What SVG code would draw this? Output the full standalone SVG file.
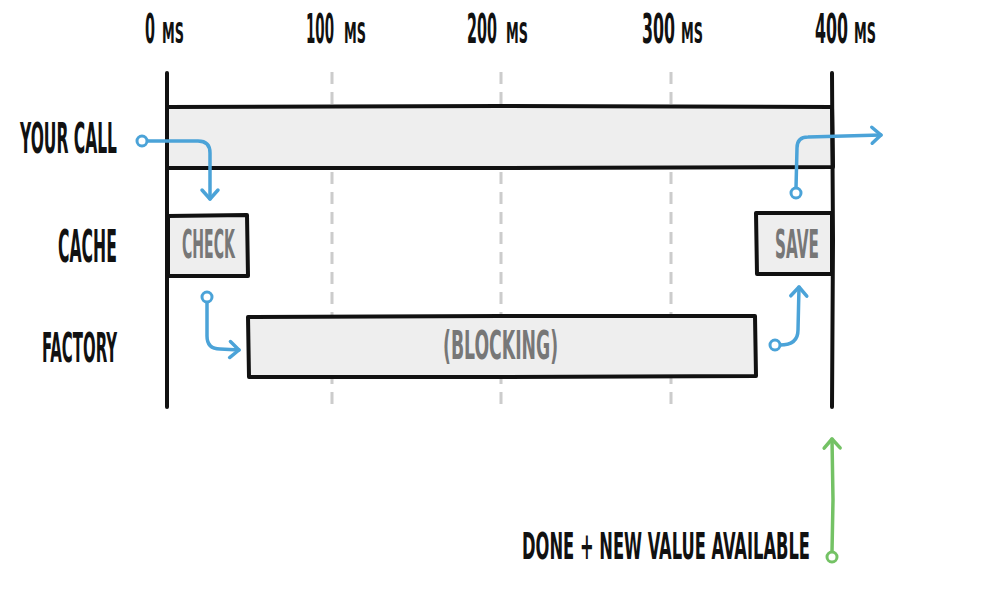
<svg xmlns="http://www.w3.org/2000/svg" width="1000" height="600" viewBox="0 0 1000 600">
<style>
.lbl{font-family:"DejaVu Sans Condensed","DejaVu Sans",sans-serif;font-weight:700;fill:#111}
.in{font-family:"DejaVu Sans Condensed","DejaVu Sans",sans-serif;font-weight:700;fill:#777}
.axis{stroke:#111;stroke-width:4;fill:none;stroke-linecap:round;stroke-linejoin:round}
.grid{stroke:#cccccc;stroke-width:3;stroke-dasharray:12 8;fill:none}
.box{fill:#eeeeee;stroke:#111;stroke-width:4;stroke-linejoin:round}
.blue{stroke:#4ba3d8;stroke-width:3.5;fill:none;stroke-linecap:round;stroke-linejoin:round}
.bdot{stroke:#4ba3d8;stroke-width:3;fill:#fff}
.green{stroke:#74c265;stroke-width:3.5;fill:none;stroke-linecap:round;stroke-linejoin:round}
.gdot{stroke:#74c265;stroke-width:3;fill:#fff}
</style>
<defs>
<marker id="ab" markerUnits="userSpaceOnUse" markerWidth="24" markerHeight="24" refX="12" refY="12" orient="auto" viewBox="0 0 24 24">
<path d="M3,4 L12,12 L3,20" fill="none" stroke="#4ba3d8" stroke-width="3.5" stroke-linecap="round" stroke-linejoin="round"/>
</marker>
<marker id="ag" markerUnits="userSpaceOnUse" markerWidth="24" markerHeight="24" refX="12" refY="12" orient="auto" viewBox="0 0 24 24">
<path d="M3,4 L12,12 L3,20" fill="none" stroke="#74c265" stroke-width="3.5" stroke-linecap="round" stroke-linejoin="round"/>
</marker>
</defs>
<rect width="1000" height="600" fill="#fff"/>
<g id="axis-labels">
<text class="lbl" font-size="41.5" transform="translate(145,43) scale(0.36,1)" textLength="27.8" lengthAdjust="spacingAndGlyphs">0</text>
<text class="lbl" font-size="28" transform="translate(162,43) scale(0.49,1)" textLength="44.9" lengthAdjust="spacingAndGlyphs">MS</text>
<text class="lbl" font-size="41.5" transform="translate(306,43) scale(0.36,1)" textLength="77.8" lengthAdjust="spacingAndGlyphs">100</text>
<text class="lbl" font-size="28" transform="translate(344,43) scale(0.49,1)" textLength="44.9" lengthAdjust="spacingAndGlyphs">MS</text>
<text class="lbl" font-size="41.5" transform="translate(467,43) scale(0.36,1)" textLength="83.3" lengthAdjust="spacingAndGlyphs">200</text>
<text class="lbl" font-size="28" transform="translate(506,43) scale(0.49,1)" textLength="44.9" lengthAdjust="spacingAndGlyphs">MS</text>
<text class="lbl" font-size="41.5" transform="translate(642,43) scale(0.36,1)" textLength="91.7" lengthAdjust="spacingAndGlyphs">300</text>
<text class="lbl" font-size="28" transform="translate(681,43) scale(0.49,1)" textLength="44.9" lengthAdjust="spacingAndGlyphs">MS</text>
<text class="lbl" font-size="41.5" transform="translate(815,43) scale(0.36,1)" textLength="91.7" lengthAdjust="spacingAndGlyphs">400</text>
<text class="lbl" font-size="28" transform="translate(854,43) scale(0.49,1)" textLength="44.9" lengthAdjust="spacingAndGlyphs">MS</text>
</g>
<g id="grid">
<path class="grid" d="M332,72 V407 M501,72 V407 M671,72 V407"/>
</g>
<g id="your-call">
<path class="box" d="M167,107 L500,106 L832,107 L833,167 L500,168 L167,168 Z"/>
<text class="lbl" font-size="43" transform="translate(20,153) scale(0.40,1)" textLength="242.5" lengthAdjust="spacingAndGlyphs">YOUR CALL</text>
</g>
<g id="cache-check">
<path class="box" d="M168,216 L247,215 L248,276 L168,276 Z"/>
<text class="lbl" font-size="44.6" transform="translate(58,262) scale(0.39,1)" textLength="151" lengthAdjust="spacingAndGlyphs">CACHE</text>
<text class="in" font-size="38.5" transform="translate(182,258) scale(0.41,1)" textLength="129" lengthAdjust="spacingAndGlyphs">CHECK</text>
</g>
<g id="cache-save">
<path class="box" d="M756,213 L832,213 L832,274 L757,274 Z"/>
<text class="in" font-size="38.5" transform="translate(775,258) scale(0.43,1)" textLength="102" lengthAdjust="spacingAndGlyphs">SAVE</text>
</g>
<g id="factory">
<path class="box" d="M248,317 L500,316 L755,316 L756,376 L500,377 L249,377 Z"/>
<text class="lbl" font-size="41.5" transform="translate(42,362) scale(0.385,1)" textLength="195" lengthAdjust="spacingAndGlyphs">FACTORY</text>
<text class="in" font-size="38.5" transform="translate(443,359) scale(0.49,1)" textLength="235" lengthAdjust="spacingAndGlyphs">(BLOCKING)</text>
</g>
<g id="timeline-bounds">
<path class="axis" d="M167,73 L167,407"/>
<path class="axis" d="M832,73 L833,240 L832,407"/>
</g>
<g id="connectors">
<path class="blue" d="M147,141 L198,141 Q210,141 210,153 L210,199" marker-end="url(#ab)"/>
<circle class="bdot" cx="142" cy="141" r="5"/>
<path class="blue" d="M207,302 L207,336 Q207,349 220,349 L239,350" marker-end="url(#ab)"/>
<circle class="bdot" cx="207" cy="297" r="5"/>
<path class="blue" d="M780,345 Q798,345 798,330 L799,287" marker-end="url(#ab)"/>
<circle class="bdot" cx="775" cy="345" r="5"/>
<path class="blue" d="M796,188 L797,148 Q797,137 808,137 L881,135" marker-end="url(#ab)"/>
<circle class="bdot" cx="796" cy="193" r="5"/>
<path class="green" d="M832,552 L833,500 L832,439" marker-end="url(#ag)"/>
<circle class="gdot" cx="832" cy="557" r="5"/>
</g>
<g id="done-label">
<text class="lbl" font-size="37" transform="translate(522,559) scale(0.48,1)" textLength="600" lengthAdjust="spacingAndGlyphs">DONE + NEW VALUE AVAILABLE</text>
</g>
</svg>
